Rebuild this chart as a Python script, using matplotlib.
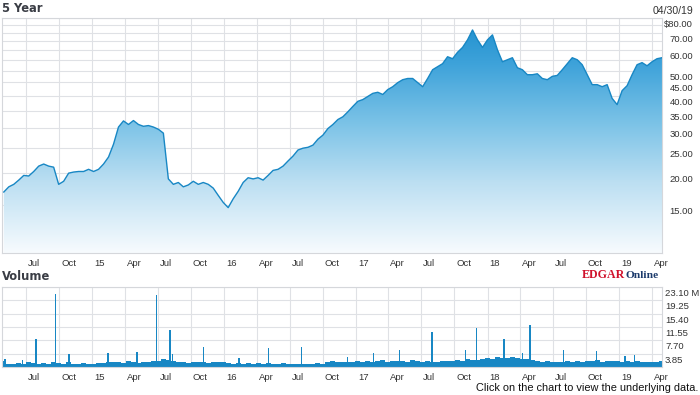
import numpy as np
import pandas as pd
import matplotlib
matplotlib.use('Agg')
import matplotlib.pyplot as plt
import matplotlib.dates as mdates
from matplotlib.colors import LinearSegmentedColormap
from matplotlib.transforms import ScaledTranslation, blended_transform_factory
from matplotlib.ticker import NullLocator

# closing price, read every ~2 weeks from 04/30/14 to 04/30/19
price = [16.9, 17.7, 18.1, 18.8, 19.6, 19.5, 20.3, 21.3, 21.7, 21.3,
         21.1, 18.1, 18.6, 20.0, 20.2, 20.3, 20.3, 20.7, 20.3, 20.7,
         21.7, 23.1, 25.9, 30.2, 31.9, 30.9, 32.0, 30.9, 30.4, 30.6,
         30.2, 29.6, 28.6, 19.0, 18.1, 18.4, 17.7, 18.0, 18.6, 18.1,
         18.4, 18.1, 17.5, 16.4, 15.4, 14.7, 15.9, 17.0, 18.4, 19.2,
         19.0, 19.2, 18.8, 19.6, 20.5, 20.7, 21.3, 22.3, 23.3, 24.6,
         25.0, 25.2, 25.7, 27.1, 28.1, 29.8, 30.9, 32.3, 33.1, 34.6,
         36.3, 38.0, 38.6, 39.7, 40.8, 41.2, 40.4, 42.2, 43.3, 44.9,
         46.1, 46.6, 46.6, 44.9, 43.3, 46.6, 50.4, 51.8, 53.2, 56.6,
         55.6, 58.9, 61.5, 65.8, 71.9, 65.8, 61.5, 65.8, 68.8, 60.2,
         54.1, 55.1, 56.1, 51.3, 50.4, 48.2, 48.2, 48.6, 46.6, 46.1,
         47.5, 47.9, 50.4, 53.2, 56.1, 55.1, 52.7, 48.2, 44.1, 44.1,
         43.3, 44.1, 39.0, 36.9, 41.8, 43.7, 48.2, 52.7, 53.7, 52.2,
         54.1, 55.6, 56.1]

# typical volume (millions) over the same dates
base_vol = [1.8, 1.0, 0.9, 1.1, 1.0, 1.3, 1.1, 1.0, 1.2, 1.0, 1.3, 1.1, 1.0, 1.4, 1.0, 0.9, 1.1, 0.8,
            1.0, 1.2, 1.1, 1.4, 1.5, 1.3, 1.2, 1.6, 1.3, 1.2, 1.5, 1.3, 1.6, 1.8, 2.2, 2.0, 1.7, 1.5,
            1.3, 1.2, 1.4, 1.5, 1.3, 1.2, 1.4, 1.3, 1.5, 1.2, 1.0, 1.1, 0.9, 1.1, 1.0, 1.2, 0.9, 1.1,
            1.0, 0.9, 1.1, 0.8, 1.0, 0.9, 0.8, 1.0, 0.9, 1.1, 0.8, 1.4, 1.6, 1.5, 1.3, 1.5, 1.4, 1.6,
            1.5, 1.7, 1.4, 1.6, 1.9, 1.5, 1.7, 1.6, 1.8, 1.5, 1.9, 1.6, 1.4, 1.7, 1.5, 1.4, 1.6, 1.8,
            1.6, 2.0, 1.8, 2.2, 2.0, 1.9, 2.3, 2.6, 2.4, 2.8, 2.5, 2.7, 3.0, 2.6, 2.4, 2.2, 1.9, 1.7,
            1.5, 1.6, 1.4, 1.5, 1.3, 1.6, 1.4, 1.7, 1.5, 1.8, 1.6, 1.9, 1.5, 1.7, 1.6, 1.8, 1.5, 1.7,
            1.4, 1.6, 1.5, 1.3, 1.5, 1.4, 1.6]

# heavy-volume days (millions)
spike_dates = ['2014-05-03', '2014-06-21', '2014-07-28', '2014-09-21', '2014-10-28',
               '2015-02-13', '2015-05-05', '2015-06-28', '2015-08-04', '2015-08-11',
               '2015-11-05', '2016-02-11', '2016-05-03', '2016-08-03', '2016-12-09',
               '2017-02-18', '2017-05-01', '2017-07-31', '2017-11-01', '2017-12-01',
               '2018-02-16', '2018-04-08', '2018-04-29', '2018-07-30', '2018-10-30',
               '2019-01-17', '2019-02-12']
spike_vol = [2.3, 2.1, 8.0, 21.1, 3.8,
             4.1, 4.4, 20.8, 10.7, 3.8,
             5.9, 2.5, 5.4, 5.9, 2.8,
             4.1, 4.9, 10.2, 4.9, 11.4,
             8.0, 4.1, 12.1, 4.9, 4.7,
             3.3, 3.5]

quarter_labels = ['Jul', 'Oct', '15', 'Apr', 'Jul', 'Oct', '16', 'Apr', 'Jul', 'Oct',
                  '17', 'Apr', 'Jul', 'Oct', '18', 'Apr', 'Jul', 'Oct', '19', 'Apr']
price_grid = [15, 20, 25, 30, 35, 40, 45, 50, 55, 60, 65, 70, 75, 80]
price_labels = {80: '$80.00', 70: '70.00', 60: '60.00', 50: '50.00', 45: '45.00',
                40: '40.00', 35: '35.00', 30: '30.00', 25: '25.00', 20: '20.00', 15: '15.00'}
vol_grid = [3.85, 7.70, 11.55, 15.40, 19.25, 23.10]
vol_labels = ['3.85', '7.70', '11.55', '15.40', '19.25', '23.10 M']

dates = mdates.date2num(pd.date_range('2014-04-30', '2019-04-30', periods=len(price)))
quarters = mdates.date2num(pd.date_range('2014-07-01', '2019-04-01', freq='QS'))
sdates = mdates.date2num(pd.to_datetime(spike_dates))
xmin = mdates.date2num(pd.Timestamp('2014-04-25'))
xmax = mdates.date2num(pd.Timestamp('2019-04-30'))

blue = '#1887c4'
grid_c = '#dfe1e5'
txt_c = '#333333'
tick_font = dict(family=['Liberation Sans', 'DejaVu Sans'], size=6.8, color=txt_c)

fig = plt.figure(figsize=(7, 3.95), dpi=100)
ax = fig.add_axes([2/700, 1 - 253/395, 660/700, 235/395])
axv = fig.add_axes([2/700, 1 - 367/395, 660/700, 80/395])

# price panel
ax.set_yscale('log')
ax.plot(dates, price, color=blue, lw=1.0, zorder=3)
poly = ax.fill_between(dates, price, 1, color='none', lw=0)
cmap = LinearSegmentedColormap.from_list('g', [(0, '#f7fbfe'), (0.3, '#bcdff2'),
                                               (0.55, '#7cc3e7'), (0.8, '#3fa3da'),
                                               (1, '#1d8fce')])
grad = np.linspace(0, 1, 256).reshape(-1, 1)
im = ax.imshow(grad, extent=[0, 1, 0, 1], transform=ax.transAxes, origin='lower',
               aspect='auto', cmap=cmap, zorder=2)
im.set_clip_path(poly.get_paths()[0], transform=ax.transData)
ax.set_xlim(xmin, xmax)
ax.set_ylim(9.8, 80)
ax.yaxis.set_minor_locator(NullLocator())
ax.set_yticks(price_grid)
ax.set_xticks(quarters)

# volume panel
axv.bar(dates, base_vol, width=14, color=blue, lw=0)
axv.bar(sdates, spike_vol, width=4, color=blue, lw=0)
axv.set_xlim(xmin, xmax)
axv.set_ylim(0, 23.10)
axv.set_yticks(vol_grid)
axv.set_xticks(quarters)

for a in (ax, axv):
    a.set_axisbelow(True)
    a.grid(True, color=grid_c, lw=0.8)
    a.tick_params(length=0, labelbottom=False, labelleft=False)
    for s in a.spines.values():
        s.set_color('#d5d7db')
        s.set_linewidth(0.8)
    tr = blended_transform_factory(a.transData, a.transAxes) + \
        ScaledTranslation(0.02, -0.06, fig.dpi_scale_trans)
    for q, lab in zip(quarters, quarter_labels):
        a.text(q, 0, lab, transform=tr, ha='left', va='top', **tick_font)

tr = blended_transform_factory(ax.transAxes, ax.transData) + \
    ScaledTranslation(0.31, -0.02, fig.dpi_scale_trans)
for v, lab in price_labels.items():
    ax.text(1, v, lab, transform=tr, ha='right', va='top', clip_on=False, **tick_font)

tr = blended_transform_factory(axv.transAxes, axv.transData) + \
    ScaledTranslation(0.03, -0.02, fig.dpi_scale_trans)
for v, lab in zip(vol_grid, vol_labels):
    axv.text(1, v, lab, transform=tr, ha='left', va='top', clip_on=False, **tick_font)

title_font = dict(family='DejaVu Sans', weight='bold', size=8.3, color='#3a3d45')
fig.text(2/700, 1 - 8.5/395, '5 Year', ha='left', va='center', **title_font)
fig.text(2/700, 1 - 277/395, 'Volume', ha='left', va='center', **title_font)
fig.text(693/700, 1 - 11.5/395, '04/30/19', ha='right', va='center',
         family='Liberation Sans', size=7.6, color=txt_c)
fig.text(698/700, 1 - 388/395, 'Click on the chart to view the underlying data.',
         ha='right', va='center', family='Liberation Sans', size=7.9, color='#111111')

# EDGAR Online logo
fig.text(582/700, 1 - 275/395, 'EDGAR', ha='left', va='center', family='Liberation Serif',
         weight='bold', size=8.6, color='#d0112b')
fig.text(625/700, 1 - 276/395, 'Online', ha='left', va='center', family='Liberation Serif',
         weight='bold', size=8.2, color='#1b3a6b')

fig.savefig('out.png', dpi=100, facecolor='white')
